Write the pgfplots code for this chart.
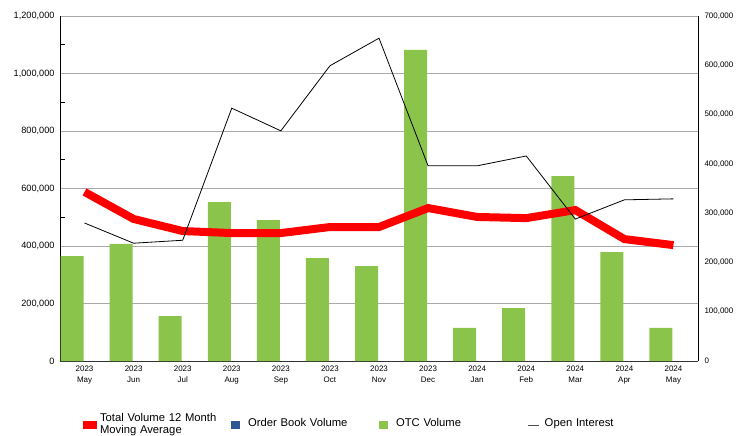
\documentclass[border=0pt]{standalone}
\usepackage{fontspec}
\setmainfont{Liberation Sans}
\usepackage{pgfplots}
\pgfplotsset{compat=1.18}
\definecolor{otcgreen}{RGB}{139,196,74}
\definecolor{obblue}{RGB}{47,85,151}
\definecolor{gridgray}{RGB}{170,170,170}

\pgfplotstableread{
x otc ma oi
0 365000 588000 280000
1 407000 494000 239000
2 156000 452000 245000
3 553000 445000 513000
4 490000 445000 467000
5 358000 466000 599000
6 330000 466000 655000
7 1082000 532000 396000
8 115000 501000 396000
9 184000 497000 416000
10 643000 525000 288000
11 379000 424000 327000
12 115000 403000 329000
}\datatable

\begin{document}
\begin{tikzpicture}
\path[use as bounding box] (-60bp,-75bp) rectangle (684bp,361bp);
\pgfplotsset{
  every axis/.append style={
    scale only axis, width=638bp, height=345bp,
    xmin=-0.5, xmax=12.5,
    /pgf/number format/assume math mode=true,
    /pgf/number format/.cd, fixed, 1000 sep={,},
  },
}
\begin{axis}[
  at={(0,0)}, anchor=south west,
  axis x line*=bottom, axis y line*=left,
  axis line style={-, black, line width=0.8pt},
  x axis line style={draw=black!80},
  ymin=0, ymax=1200000,
  ytick={0,200000,...,1200000},
  minor ytick={100000,300000,...,1100000},
  scaled y ticks=false,
  ymajorgrids, grid style={gridgray, line width=0.8pt},
  tick align=inside, major tick length=0pt, minor tick length=5bp,
  minor tick style={black, line width=0.8pt},
  xtick={0,...,12},
  xticklabels={2023\\May,2023\\Jun,2023\\Jul,2023\\Aug,2023\\Sep,2023\\Oct,2023\\Nov,2023\\Dec,2024\\Jan,2024\\Feb,2024\\Mar,2024\\Apr,2024\\May},
  x tick label style={align=center, font=\fontsize{8}{11}\selectfont, yshift=-1bp},
  y tick label style={font=\fontsize{9.2}{10}\selectfont, xshift=-2bp},
  clip=false,
]
\addplot[ybar, bar width=23bp, bar shift=-12.5bp, fill=otcgreen, draw=none] table[x=x,y=otc]{\datatable};
\addplot[red, line width=8bp, line join=miter] table[x=x,y=ma]{\datatable};
\end{axis}
\begin{axis}[
  at={(0,0)}, anchor=south west,
  axis x line=none, axis y line*=right,
  axis line style={-, black, line width=0.8pt},
  ymin=0, ymax=700000,
  ytick={0,100000,...,700000},
  scaled y ticks=false,
  major tick length=0pt,
  y tick label style={font=\fontsize{8}{10}\selectfont, xshift=3bp},
  legend columns=4,
  legend style={draw=none, fill=none, inner sep=0pt, outer sep=0pt,
    at={(23bp,-60.5bp)}, anchor=west,
    font=\fontsize{11.3}{12}\selectfont,
    nodes={text width=131bp, align=left, inner xsep=0pt, inner ysep=1pt},
    /tikz/every odd column/.append style={column sep=3bp},
    /tikz/every even column/.append style={column sep=0bp}},
  legend cell align=left,
]
\addlegendimage{draw=none, legend image code/.code={\fill[red, draw=none] (0bp,-7.5bp) rectangle (14bp,0.5bp);}}
\addlegendentry{\begin{tabular}[c]{@{}l@{}}Total Volume 12 Month\\Moving Average\end{tabular}}
\addlegendimage{draw=none, legend image code/.code={\fill[obblue, draw=none] (0bp,-7.5bp) rectangle (9bp,0.5bp); \path[draw=none, fill=none] (0bp,0bp) -- (14bp,0bp);}}
\addlegendentry{\raisebox{-3bp}{Order Book Volume}}
\addlegendimage{draw=none, legend image code/.code={\fill[otcgreen, draw=none] (0bp,-7.5bp) rectangle (9bp,0.5bp); \path[draw=none, fill=none] (0bp,0bp) -- (14bp,0bp);}}
\addlegendentry{\raisebox{-3bp}{OTC Volume}}
\addplot[black, line width=0.8pt, legend image code/.code={\draw[black!70, line width=1.5pt] (0bp,-4bp) -- (11bp,-4bp); \path[draw=none] (0bp,0bp) -- (14bp,0bp);}] table[x=x,y=oi]{\datatable};
\addlegendentry{\raisebox{-3bp}{Open Interest}}
\end{axis}
\end{tikzpicture}
\end{document}
